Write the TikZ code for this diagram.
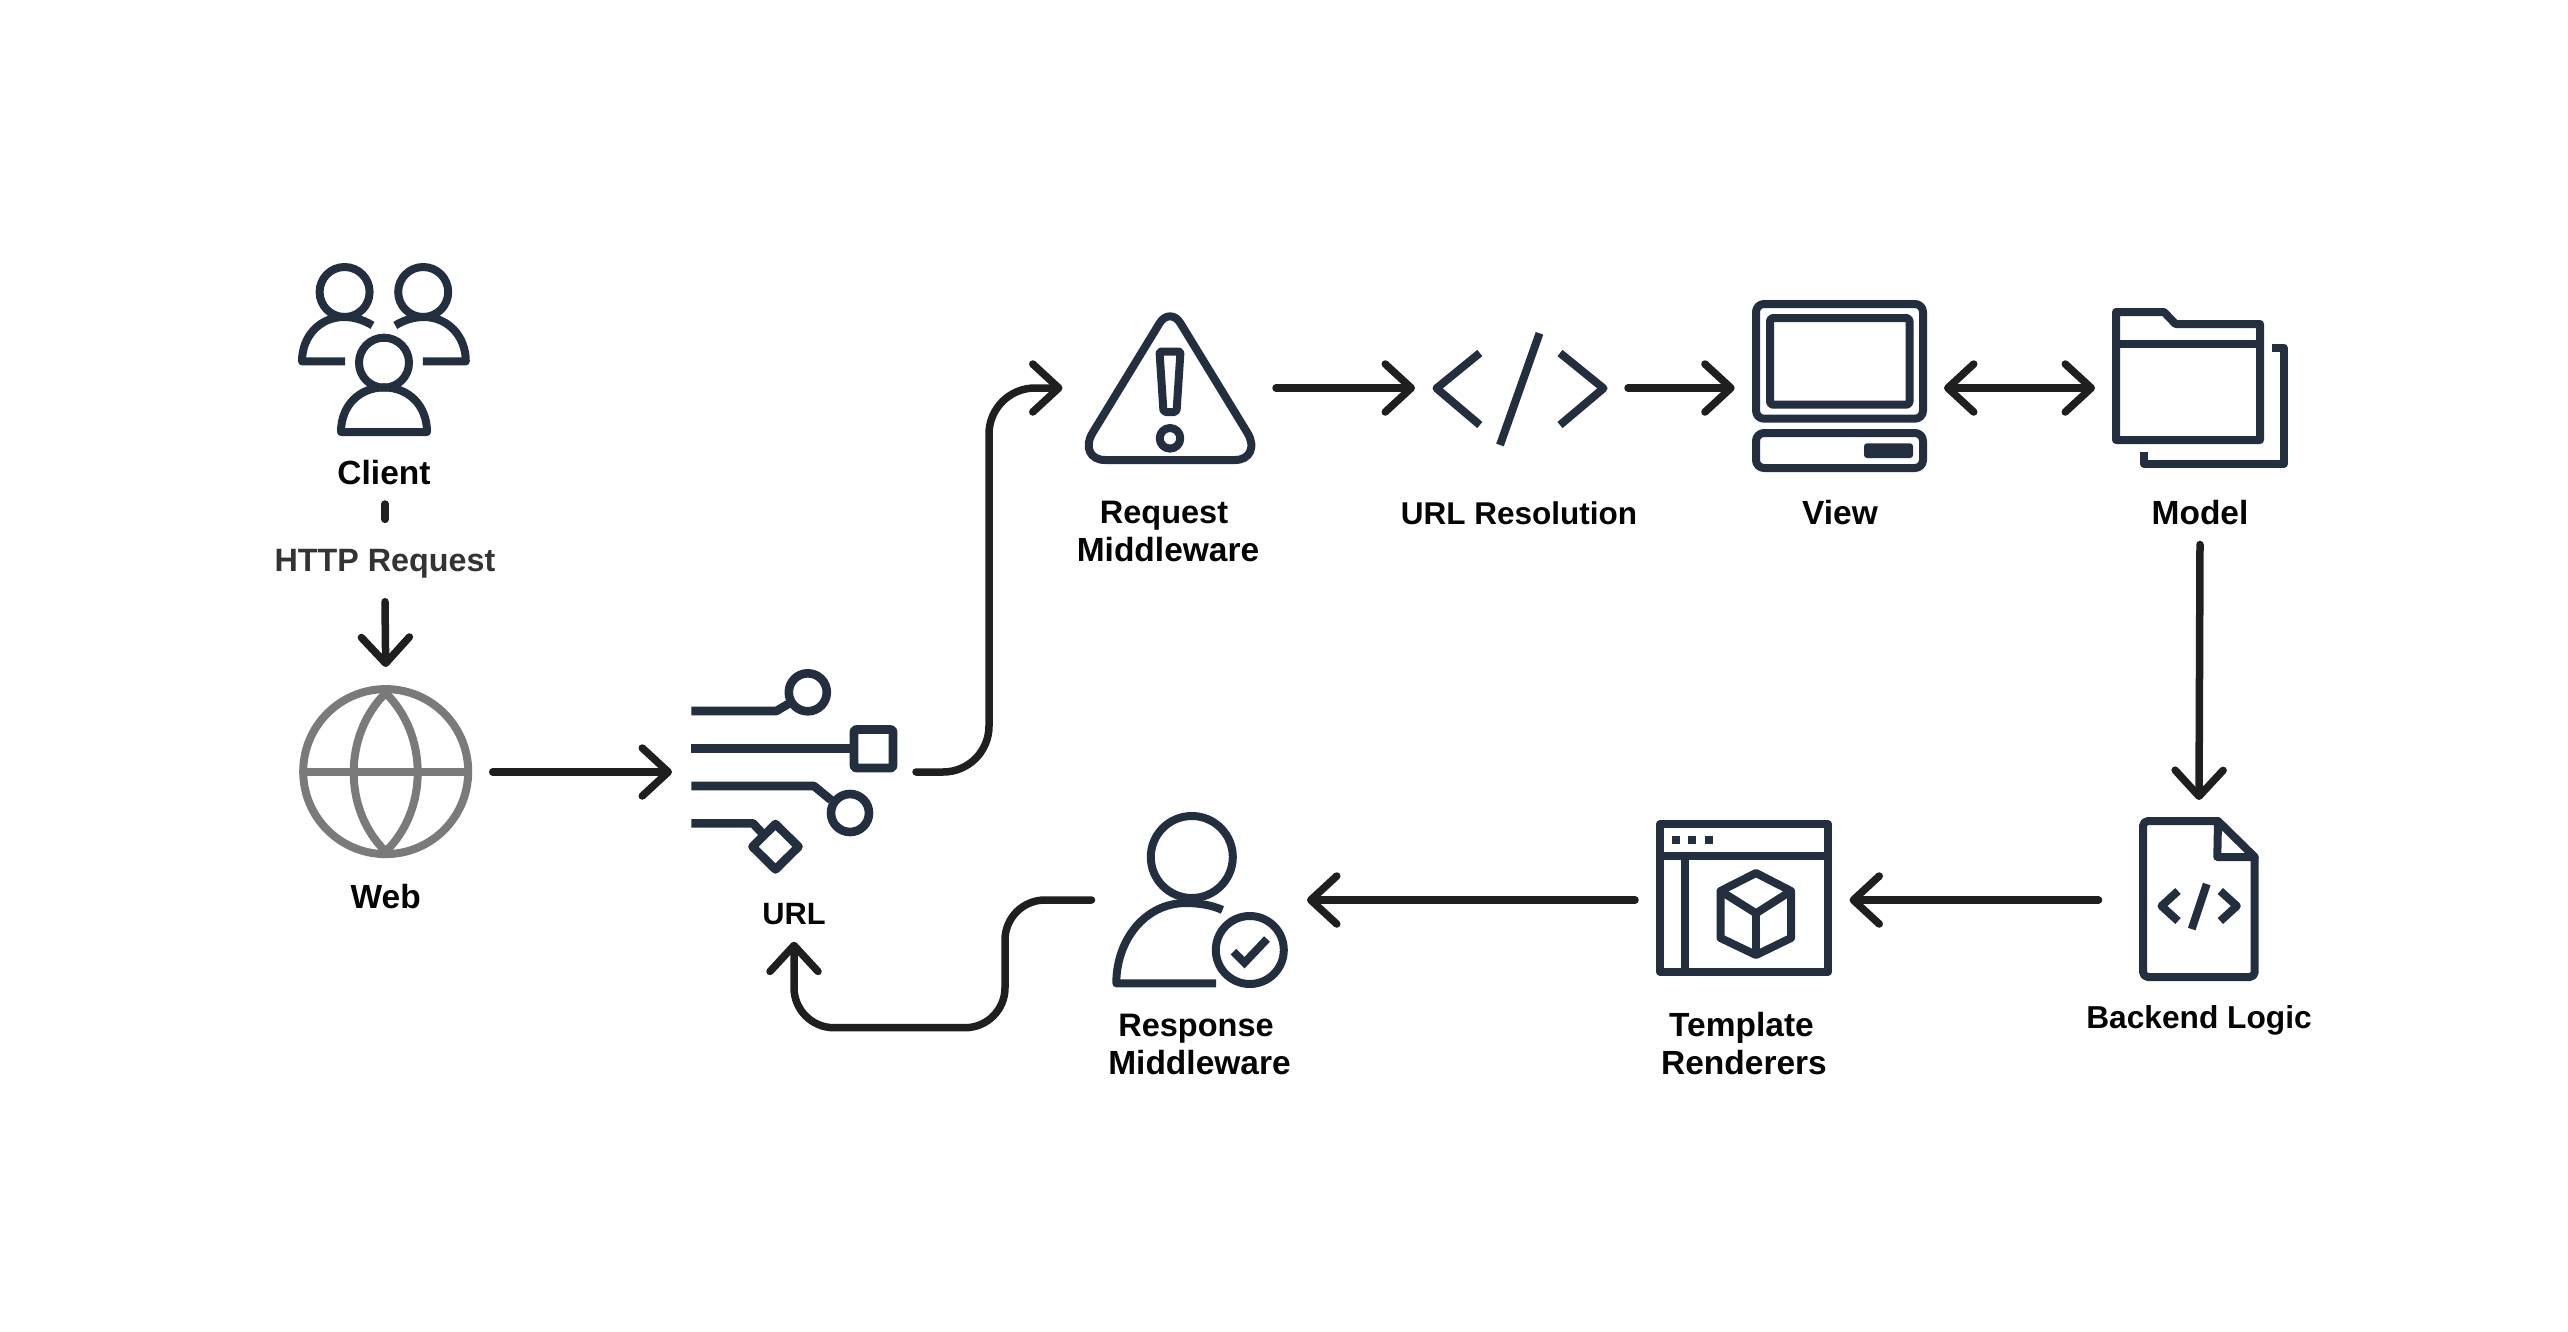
\documentclass[tikz,border=0pt]{standalone}
\usepackage{fontspec}
\setmainfont{Liberation Sans}
\usetikzlibrary{arrows.meta}
\definecolor{iconc}{HTML}{232F3E}
\definecolor{connc}{HTML}{1F1F1F}
\definecolor{globec}{HTML}{7A7A7A}
\definecolor{textc}{HTML}{050505}
\definecolor{httpc}{HTML}{333333}
\tikzset{
  icon/.style={draw=iconc,line width=8pt,line join=round},
  heavy/.style={icon,line width=8.6pt},
  globeline/.style={draw=globec,line width=8pt,line join=round},
  conn/.style={draw=connc,line width=7.5pt,line cap=round},
  barb/.tip={Straight Barb[length=26pt,width=48pt,line width=7.5pt,round]},
  tipped/.style={conn,-{barb}},
  both/.style={conn,{barb}-{barb}},
  slot/.style={inner sep=0pt,outer sep=0pt,minimum width=#1},
  lbl/.style={anchor=base,inner sep=0pt,text=textc,align=center,font=\fontsize{33.5}{38}\selectfont\bfseries},
}
\begin{document}
\begin{tikzpicture}[x=1pt,y=-1pt]
\useasboundingbox (0,0) rectangle (2568,1331);
\fill[white] (0,0) rectangle (2568,1331);

% invisible slots whose edges are the connector ends
\node[slot=120pt,minimum height=40pt] (client) at (385,484) {};
\node[lbl,text=httpc,anchor=center,minimum height=82pt,text depth=0pt,font=\fontsize{32.3}{38}\selectfont\bfseries] (http) at (385,560.5) {HTTP Request};
\node[slot=214pt,minimum height=210pt] (web) at (385.7,772) {};
\node[slot=244pt,minimum height=339.4pt] (url) at (794,772) {};
\node[slot=213.5pt,minimum height=160pt] (request) at (1169.25,388) {};
\node[slot=213pt,minimum height=160pt] (urlres) at (1521.5,388) {};
\node[slot=209.3pt,minimum height=160pt] (view) at (1839.35,388) {};
\node[slot=210pt,minimum height=313pt] (model) at (2200,388) {};
\node[slot=201pt,minimum height=200pt] (backend) at (2199,900) {};
\node[slot=214.5pt,minimum height=200pt] (template) at (1742.25,900) {};
\node[slot=215.5pt,minimum height=200pt] (response) at (1199.25,900) {};
\coordinate (upbend) at (989,580);
\coordinate (retbend) at (1005,1027.7);

% connectors
\draw[conn] (client.south) -- (http.north);
\draw[tipped] (http.south) -- (web.north);
\draw[tipped] (web.east) -- (url.west);
\draw[tipped,rounded corners=46pt] (url.east) -| (upbend) |- (request.west);
\draw[tipped] (request.east) -- (urlres.west);
\draw[tipped] (urlres.east) -- (view.west);
\draw[both] (view.east) -- (model.west);
\draw[tipped] (model.south) -- (backend.north);
\draw[tipped] (backend.west) -- (template.east);
\draw[tipped] (template.west) -- (response.east);
\draw[tipped,rounded corners=40pt] (response.west) -| (retbend) -| (url.south);

% client icon
\draw[icon] (344.6,292) circle (25);
\draw[icon] (423.2,292) circle (25);
\draw[icon] (384,362.7) circle (25);
\draw[icon] (372.5,325.4) .. controls (362,319) and (352,317) .. (344,317) .. controls (320,317) and (302,336) .. (302,361.4) -- (345,361.4);
\draw[icon] (395.3,325.4) .. controls (405.8,319) and (415.8,317) .. (423.8,317) .. controls (447.8,317) and (465.8,336) .. (465.8,361.4) -- (422.8,361.4);
\draw[icon] (341,432) .. controls (341,405) and (360,387.4) .. (384,387.4) .. controls (408,387.4) and (427,405) .. (427,432) -- cycle;

% globe
\draw[globeline] (385.7,771.6) circle (82.5);
\draw[globeline] (303,771.6) -- (468.4,771.6);
\draw[globeline] (385.7,693) .. controls (343,735) and (343,810) .. (385.7,851.5) .. controls (428.4,810) and (428.4,735) .. (385.7,693);

% url icon
\draw[heavy] (691.4,711) -- (776.3,711) -- (790,703);
\draw[heavy] (807.8,692.3) circle (19);
\draw[heavy] (691.4,748.7) -- (854,748.7);
\draw[heavy,rounded corners=2pt] (854,729.5) rectangle (893,768);
\draw[heavy] (691.4,786) -- (814,786) -- (831,800);
\draw[heavy] (850,813) circle (19);
\draw[heavy] (691.4,823.3) -- (753,823.3) -- (762,833);
\draw[heavy] (775.5,824) -- (798.5,846.7) -- (775.5,869.4) -- (752.5,846.7) -- cycle;

% warning triangle
\draw[icon] (1159.5,323.3) .. controls (1165,314) and (1175,314) .. (1180.5,323.3) -- (1247.5,433) .. controls (1256,447) and (1250,460) .. (1235,460) -- (1105,460) .. controls (1090,460) and (1084,447) .. (1092.5,433) -- cycle;
\draw[icon,rounded corners=2pt] (1159.5,351.5) -- (1180.5,351.5) -- (1176.5,412) -- (1163.5,412) -- cycle;
\draw[icon] (1170,438.3) circle (10.3);

% code brackets
\draw[icon] (1479.8,353) -- (1436.5,388.3) -- (1479.8,425);
\draw[icon] (1539.5,333.3) -- (1500,445);
\draw[icon] (1560,353) -- (1603.5,388.3) -- (1560,425);

% computer
\draw[icon,rounded corners=8pt] (1756,304) rectangle (1923,418.7);
\draw[icon,rounded corners=3pt] (1770,318) rectangle (1909.5,404.7);
\draw[icon,rounded corners=8pt] (1756,433) rectangle (1923,468);
\fill[iconc,rounded corners=3pt] (1864,443.3) rectangle (1913,458);

% folder
\draw[icon] (2116,440) -- (2116,312) -- (2164,312) -- (2175.5,324) -- (2260,324) -- (2260,440) -- cycle;
\draw[icon] (2116,344) -- (2260,344);
\draw[icon] (2272,347.7) -- (2283.7,347.7) -- (2283.7,464) -- (2144,464) -- (2144,452);

% document
\draw[icon,rounded corners=5pt] (2218,821) -- (2143,821) -- (2143,977) -- (2254.7,977) -- (2254.7,857);
\draw[icon] (2218,821) -- (2254.7,857) -- (2217.3,857) -- cycle;
\draw[icon] (2178,891) -- (2161.5,906) -- (2178,921);
\draw[icon] (2206.7,884) -- (2191.7,929);
\draw[icon] (2220.3,891) -- (2236.8,906) -- (2220.3,921);

% template window
\draw[icon] (1660,824) rectangle (1828,971.7);
\draw[icon] (1660,855.7) -- (1828,855.7);
\draw[icon] (1684.6,855.7) -- (1684.6,971.7);
\fill[iconc] (1672,836) rectangle (1680,844);
\fill[iconc] (1688,836) rectangle (1696,844);
\fill[iconc] (1704.8,836) rectangle (1712.6,844);
\draw[icon] (1756,873) -- (1791,891) -- (1791,938) -- (1756,955) -- (1720.5,938) -- (1720.5,891) -- cycle;
\draw[icon] (1720.5,891) -- (1756,913.3) -- (1791,891);
\draw[icon] (1756,913.3) -- (1756,955);

% person with check
\draw[icon] (1191.8,857) circle (41);
\draw[icon] (1222.4,910) .. controls (1212,905) and (1198,903) .. (1186,903) .. controls (1145,903) and (1116.3,940) .. (1116.3,983.3) -- (1216,983.3);
\draw[icon] (1249.8,950) circle (34);
\draw[icon,line join=miter] (1233.5,951.7) -- (1244.5,962.7) -- (1267,939);

% labels
\node[lbl] (lclient) at (384,484) {Client};
\node[lbl] (lweb) at (385.7,908) {Web};
\node[lbl,font=\fontsize{30.8}{38}\selectfont\bfseries] (lurl) at (794,924) {URL};
\node[lbl] (lrequest) at (1168,561.5) {{\fontsize{32.5}{38}\selectfont Request}\kern8pt\\Middleware};
\node[lbl,font=\fontsize{31.5}{38}\selectfont\bfseries] (lurlres) at (1519,524) {URL Resolution};
\node[lbl] (lview) at (1840,524.5) {View};
\node[lbl] (lmodel) at (2200,524.5) {Model};
\node[lbl,font=\fontsize{31.7}{38}\selectfont\bfseries] (lbackend) at (2199,1028) {Backend Logic};
\node[lbl] (ltemplate) at (1744,1074.5) {Template\kern5pt\\Renderers};
\node[lbl] (lresponse) at (1199.5,1074.5) {{\fontsize{32.5}{38}\selectfont Response}\kern7pt\\Middleware};
\end{tikzpicture}
\end{document}
